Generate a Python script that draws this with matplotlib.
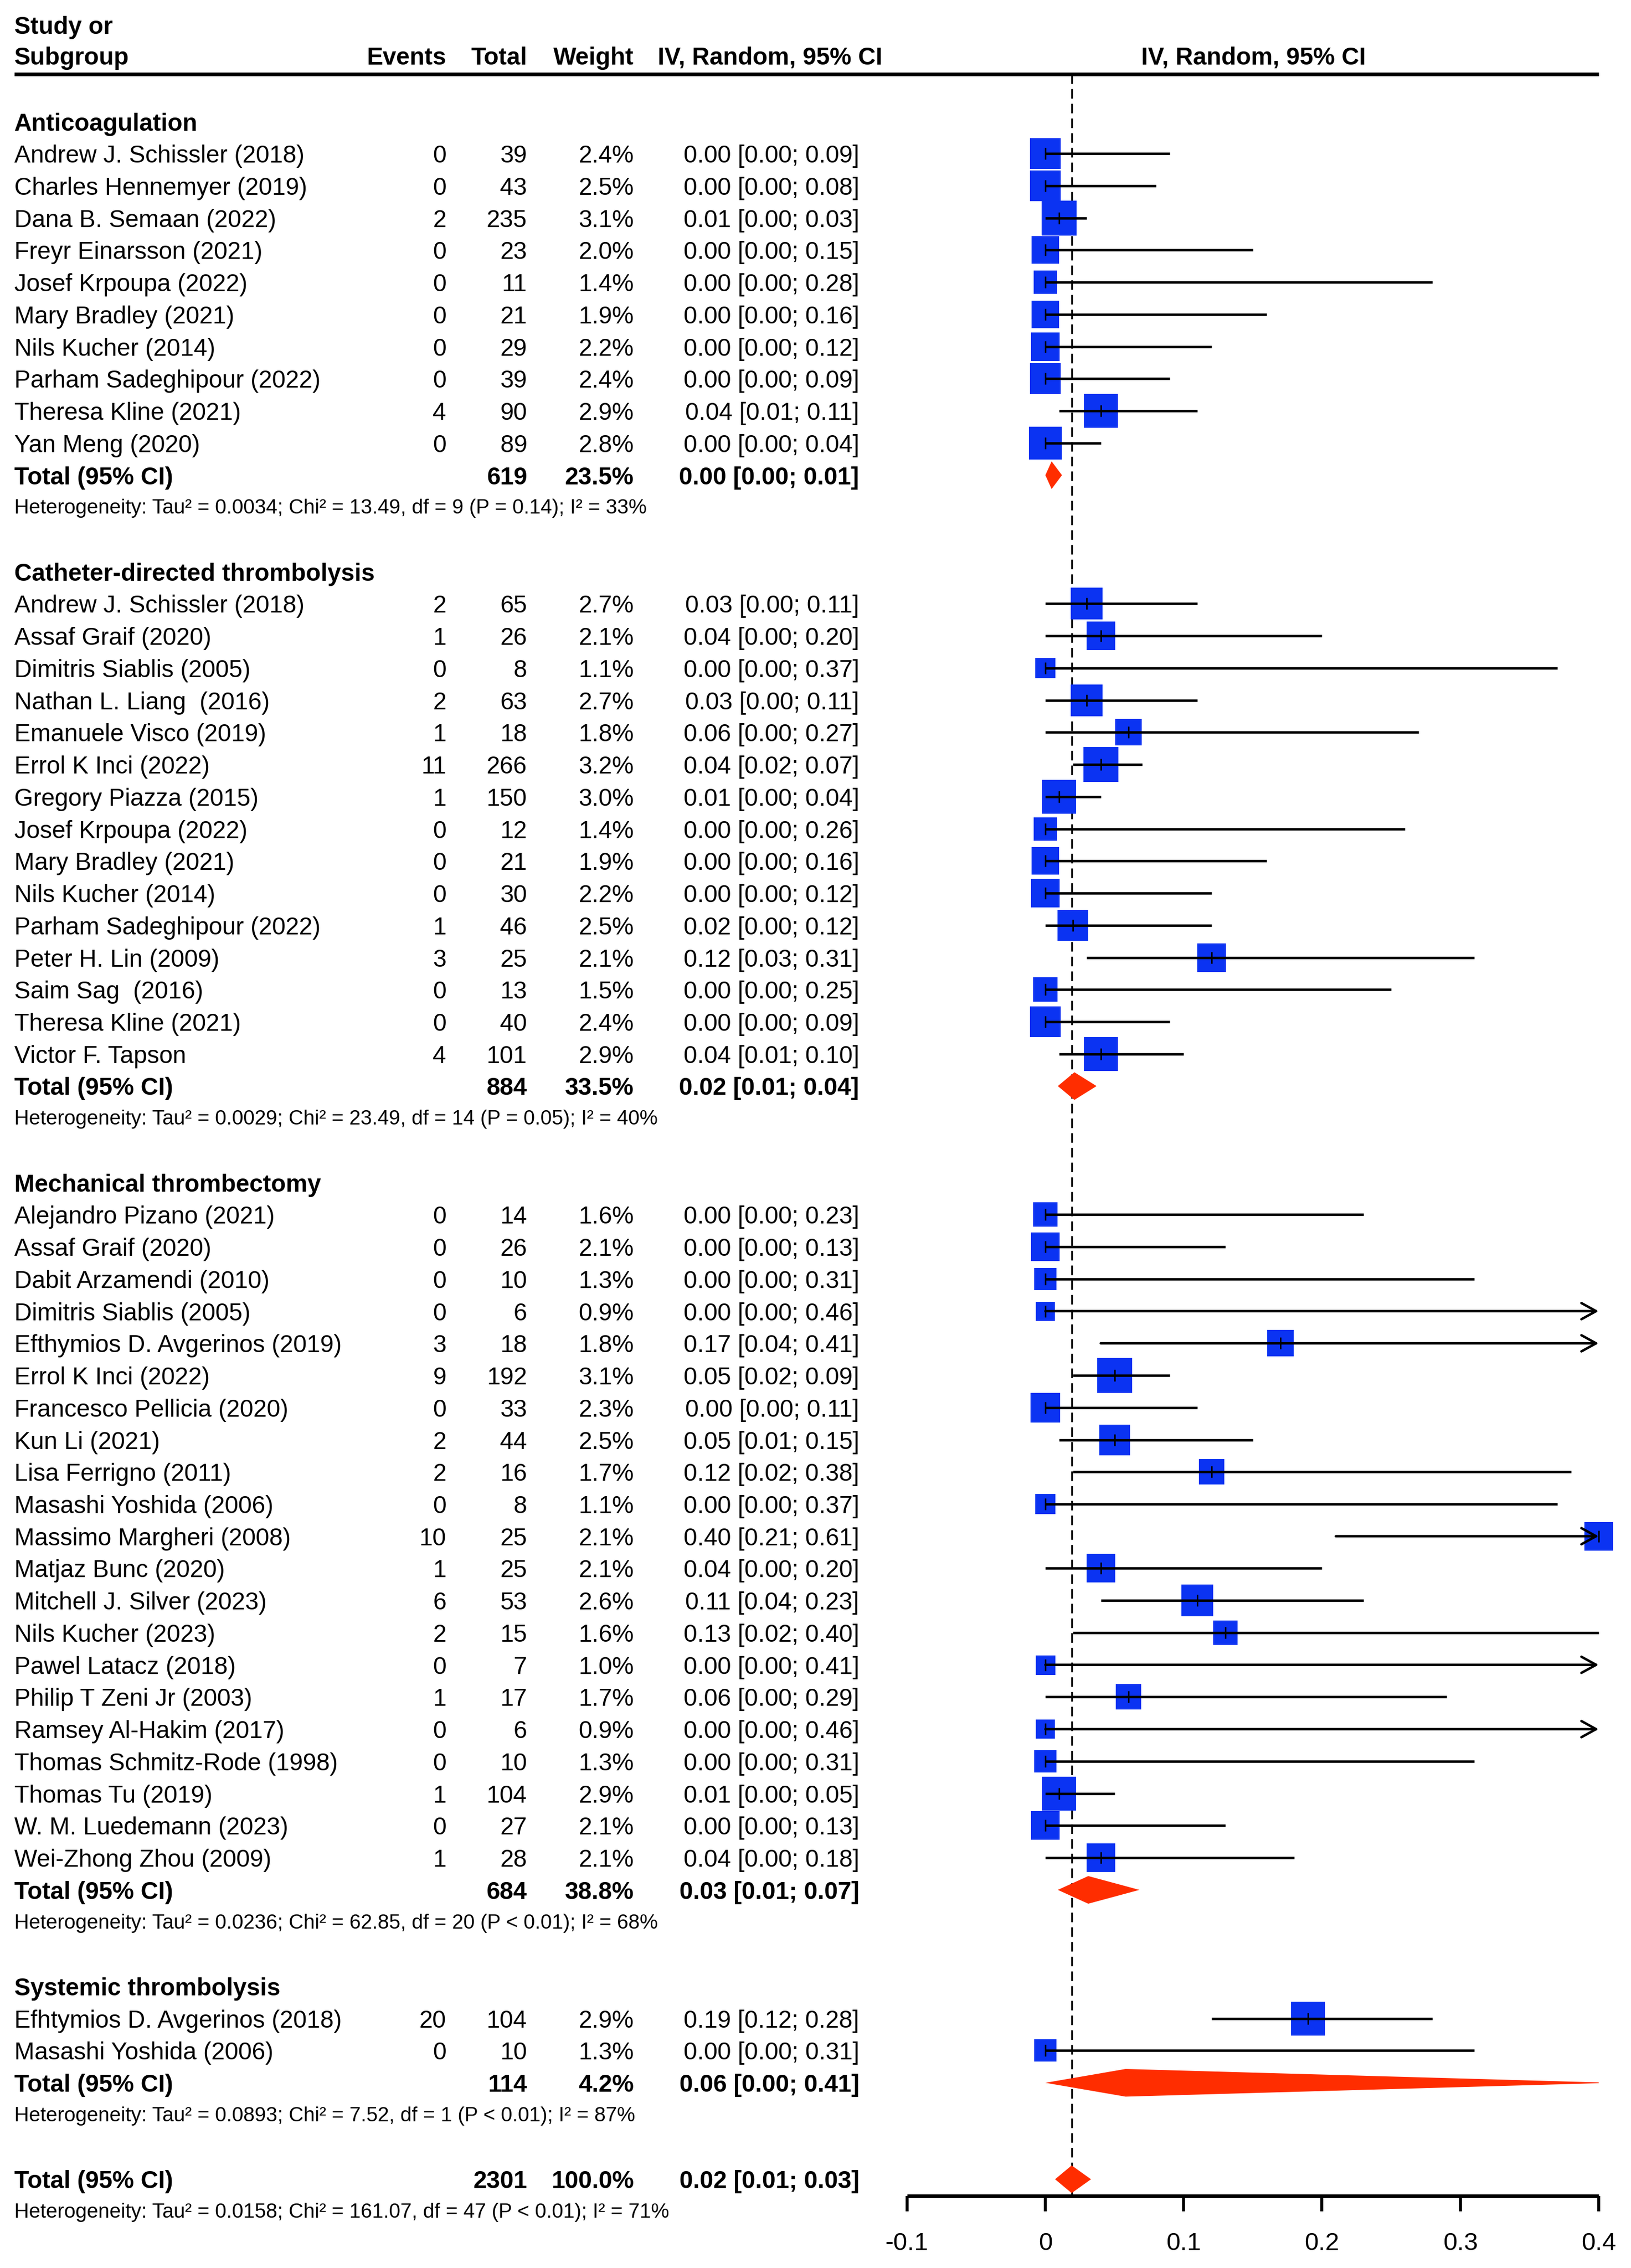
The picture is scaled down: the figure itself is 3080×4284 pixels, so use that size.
import numpy as np
import matplotlib.pyplot as plt
from matplotlib.transforms import blended_transform_factory
from matplotlib.patches import Rectangle

plt.rcParams['font.family'] = ['Liberation Sans', 'DejaVu Sans']
plt.rcParams['lines.scale_dashes'] = False

# --- Datos ---
# Anticoagulation
ac_study = ["Andrew J. Schissler (2018)", "Charles Hennemyer (2019)", "Dana B. Semaan (2022)",
            "Freyr Einarsson (2021)", "Josef Krpoupa (2022)", "Mary Bradley (2021)",
            "Nils Kucher (2014)", "Parham Sadeghipour (2022)", "Theresa Kline (2021)",
            "Yan Meng (2020)"]
ac_events = [0, 0, 2, 0, 0, 0, 0, 0, 4, 0]
ac_total = [39, 43, 235, 23, 11, 21, 29, 39, 90, 89]
ac_weight = [2.4, 2.5, 3.1, 2.0, 1.4, 1.9, 2.2, 2.4, 2.9, 2.8]
ac_est = [0.00, 0.00, 0.01, 0.00, 0.00, 0.00, 0.00, 0.00, 0.04, 0.00]
ac_lo = [0.00, 0.00, 0.00, 0.00, 0.00, 0.00, 0.00, 0.00, 0.01, 0.00]
ac_hi = [0.09, 0.08, 0.03, 0.15, 0.28, 0.16, 0.12, 0.09, 0.11, 0.04]

# Catheter-directed thrombolysis
cdt_study = ["Andrew J. Schissler (2018)", "Assaf Graif (2020)", "Dimitris Siablis (2005)",
             "Nathan L. Liang  (2016)", "Emanuele Visco (2019)", "Errol K Inci (2022)",
             "Gregory Piazza (2015)", "Josef Krpoupa (2022)", "Mary Bradley (2021)",
             "Nils Kucher (2014)", "Parham Sadeghipour (2022)", "Peter H. Lin (2009)",
             "Saim Sag  (2016)", "Theresa Kline (2021)", "Victor F. Tapson"]
cdt_events = [2, 1, 0, 2, 1, 11, 1, 0, 0, 0, 1, 3, 0, 0, 4]
cdt_total = [65, 26, 8, 63, 18, 266, 150, 12, 21, 30, 46, 25, 13, 40, 101]
cdt_weight = [2.7, 2.1, 1.1, 2.7, 1.8, 3.2, 3.0, 1.4, 1.9, 2.2, 2.5, 2.1, 1.5, 2.4, 2.9]
cdt_est = [0.03, 0.04, 0.00, 0.03, 0.06, 0.04, 0.01, 0.00, 0.00, 0.00, 0.02, 0.12, 0.00, 0.00, 0.04]
cdt_lo = [0.00, 0.00, 0.00, 0.00, 0.00, 0.02, 0.00, 0.00, 0.00, 0.00, 0.00, 0.03, 0.00, 0.00, 0.01]
cdt_hi = [0.11, 0.20, 0.37, 0.11, 0.27, 0.07, 0.04, 0.26, 0.16, 0.12, 0.12, 0.31, 0.25, 0.09, 0.10]

# Mechanical thrombectomy
mt_study = ["Alejandro Pizano (2021)", "Assaf Graif (2020)", "Dabit Arzamendi (2010)",
            "Dimitris Siablis (2005)", "Efthymios D. Avgerinos (2019)", "Errol K Inci (2022)",
            "Francesco Pellicia (2020)", "Kun Li (2021)", "Lisa Ferrigno (2011)",
            "Masashi Yoshida (2006)", "Massimo Margheri (2008)", "Matjaz Bunc (2020)",
            "Mitchell J. Silver (2023)", "Nils Kucher (2023)", "Pawel Latacz (2018)",
            "Philip T Zeni Jr (2003)", "Ramsey Al-Hakim (2017)", "Thomas Schmitz-Rode (1998)",
            "Thomas Tu (2019)", "W. M. Luedemann (2023)", "Wei-Zhong Zhou (2009)"]
mt_events = [0, 0, 0, 0, 3, 9, 0, 2, 2, 0, 10, 1, 6, 2, 0, 1, 0, 0, 1, 0, 1]
mt_total = [14, 26, 10, 6, 18, 192, 33, 44, 16, 8, 25, 25, 53, 15, 7, 17, 6, 10, 104, 27, 28]
mt_weight = [1.6, 2.1, 1.3, 0.9, 1.8, 3.1, 2.3, 2.5, 1.7, 1.1, 2.1, 2.1, 2.6, 1.6, 1.0, 1.7, 0.9,
             1.3, 2.9, 2.1, 2.1]
mt_est = [0.00, 0.00, 0.00, 0.00, 0.17, 0.05, 0.00, 0.05, 0.12, 0.00, 0.40, 0.04, 0.11, 0.13,
          0.00, 0.06, 0.00, 0.00, 0.01, 0.00, 0.04]
mt_lo = [0.00, 0.00, 0.00, 0.00, 0.04, 0.02, 0.00, 0.01, 0.02, 0.00, 0.21, 0.00, 0.04, 0.02,
         0.00, 0.00, 0.00, 0.00, 0.00, 0.00, 0.00]
mt_hi = [0.23, 0.13, 0.31, 0.46, 0.41, 0.09, 0.11, 0.15, 0.38, 0.37, 0.61, 0.20, 0.23, 0.40,
         0.41, 0.29, 0.46, 0.31, 0.05, 0.13, 0.18]

# Systemic thrombolysis
st_study = ["Efhtymios D. Avgerinos (2018)", "Masashi Yoshida (2006)"]
st_events = [20, 0]
st_total = [104, 10]
st_weight = [2.9, 1.3]
st_est = [0.19, 0.00]
st_lo = [0.12, 0.00]
st_hi = [0.28, 0.31]

# Subgrupos
sub_names = ["Anticoagulation", "Catheter-directed thrombolysis",
             "Mechanical thrombectomy", "Systemic thrombolysis"]
sub_n = [619, 884, 684, 114]
sub_weight = [23.5, 33.5, 38.8, 4.2]
sub_est = [0.0045, 0.021, 0.031, 0.058]
sub_lo = [0.000, 0.009, 0.009, 0.000]
sub_hi = [0.012, 0.037, 0.068, 0.41]
sub_het = ["Heterogeneity: Tau² = 0.0034; Chi² = 13.49, df = 9 (P = 0.14); I² = 33%",
           "Heterogeneity: Tau² = 0.0029; Chi² = 23.49, df = 14 (P = 0.05); I² = 40%",
           "Heterogeneity: Tau² = 0.0236; Chi² = 62.85, df = 20 (P < 0.01); I² = 68%",
           "Heterogeneity: Tau² = 0.0893; Chi² = 7.52, df = 1 (P < 0.01); I² = 87%"]

# Total
all_n = 2301
all_weight = 100.0
all_est = 0.019
all_lo = 0.007
all_hi = 0.033
all_het = "Heterogeneity: Tau² = 0.0158; Chi² = 161.07, df = 47 (P < 0.01); I² = 71%"

ticks = [-0.1, 0, 0.1, 0.2, 0.3, 0.4]
tick_labels = ["-0.1", "0", "0.1", "0.2", "0.3", "0.4"]

groups = [
    (ac_study, ac_events, ac_total, ac_weight, ac_est, ac_lo, ac_hi),
    (cdt_study, cdt_events, cdt_total, cdt_weight, cdt_est, cdt_lo, cdt_hi),
    (mt_study, mt_events, mt_total, mt_weight, mt_est, mt_lo, mt_hi),
    (st_study, st_events, st_total, st_weight, st_est, st_lo, st_hi),
]

# --- Estilo ---
blue = "#0B33F2"
red = "#FF2D00"
fs = 33
fs_het = 27.7
xmax = 0.4
lw_ci = 3.3
sq_scale = (37 / (100 / 72)) ** 2   # area del cuadrado por % de peso

# Columnas (fraccion del ancho)
x_name = 0.0087
x_ev = 0.2737
x_tot = 0.3232
x_w = 0.3886
x_ci = 0.5268
x_cihdr = 0.4032
x_plothdr = 0.7685

off_main = 0.28   # baseline respecto al centro de fila
off_het = 0.2

fig = plt.figure(figsize=(30.8, 42.84), dpi=100)
ax = fig.add_axes([0, 0, 1, 1])
ax.set_xlim(-0.7558, 0.4234)
ax.set_ylim(66.76, -3.779)
tr = blended_transform_factory(ax.transAxes, ax.transData)

clip = Rectangle((-1, -10), 1 + xmax, 100, transform=ax.transData)


def txt(x, y, s, ha="left", bold=False, size=fs, off=off_main):
    ax.text(x, y + off, s, transform=tr, ha=ha, va="baseline", fontsize=size,
            fontweight="bold" if bold else "normal")


def diamond(y, est, lo, hi):
    h = 0.43
    poly = ax.fill([lo, est, hi, est], [y, y - h, y, y + h], color=red, lw=0, zorder=3)[0]
    poly.set_clip_path(clip)


# Encabezado
txt(x_name, -3.0, "Study or", bold=True)
txt(x_name, -2.05, "Subgroup", bold=True)
txt(x_ev, -2.05, "Events", ha="right", bold=True)
txt(x_tot, -2.05, "Total", ha="right", bold=True)
txt(x_w, -2.05, "Weight", ha="right", bold=True)
txt(x_cihdr, -2.05, "IV, Random, 95% CI", bold=True)
txt(x_plothdr, -2.05, "IV, Random, 95% CI", ha="center", bold=True)

xl = ax.get_xlim()
ax.axhline(-1.474, xmin=x_name, xmax=(xmax - xl[0]) / (xl[1] - xl[0]), color="black", lw=5,
           solid_capstyle="butt")

k = 0
for gi, (study, ev, tot, w, est, lo, hi) in enumerate(groups):
    txt(x_name, k, sub_names[gi], bold=True)
    k += 1
    for i in range(len(study)):
        txt(x_name, k, study[i])
        txt(x_ev, k, str(ev[i]), ha="right")
        txt(x_tot, k, str(tot[i]), ha="right")
        txt(x_w, k, f"{w[i]:.1f}%", ha="right")
        txt(x_ci, k, f"{est[i]:.2f} [{lo[i]:.2f}; {hi[i]:.2f}]", ha="right")

        ax.scatter(est[i], k, s=sq_scale * w[i], marker="s", color=blue, linewidths=0, zorder=2)
        if hi[i] > xmax:
            ax.annotate("", xy=(xmax, k), xytext=(lo[i], k),
                        arrowprops=dict(arrowstyle="->,head_length=1.0,head_width=0.55",
                                        lw=lw_ci, color="black", shrinkA=0, shrinkB=0,
                                        mutation_scale=20), zorder=3)
        else:
            ax.hlines(k, lo[i], hi[i], color="black", lw=lw_ci, zorder=3)
        ax.scatter(est[i], k, s=260, marker="|", color="black", linewidths=2, zorder=4)
        k += 1

    txt(x_name, k, "Total (95% CI)", bold=True)
    txt(x_tot, k, str(sub_n[gi]), ha="right", bold=True)
    txt(x_w, k, f"{sub_weight[gi]:.1f}%", ha="right", bold=True)
    txt(x_ci, k, f"{sub_est[gi]:.2f} [{sub_lo[gi]:.2f}; {sub_hi[gi]:.2f}]", ha="right", bold=True)
    diamond(k, sub_est[gi], sub_lo[gi], sub_hi[gi])
    k += 1
    txt(x_name, k, sub_het[gi], size=fs_het, off=off_het)
    k += 2

# Total general
txt(x_name, k, "Total (95% CI)", bold=True)
txt(x_tot, k, str(all_n), ha="right", bold=True)
txt(x_w, k, f"{all_weight:.1f}%", ha="right", bold=True)
txt(x_ci, k, f"{all_est:.2f} [{all_lo:.2f}; {all_hi:.2f}]", ha="right", bold=True)
diamond(k, all_est, all_lo, all_hi)
txt(x_name, k + 1, all_het, size=fs_het, off=off_het)

axis_y = k + 0.52
ax.vlines(all_est, -1.474, axis_y, color="black", lw=2.4, linestyles=(0, (13, 7)), zorder=1)

# Eje x
for s in ["top", "left", "right"]:
    ax.spines[s].set_visible(False)
ax.spines["bottom"].set_position(("data", axis_y))
ax.spines["bottom"].set_bounds(-0.1, 0.4)
ax.spines["bottom"].set_linewidth(5)
ax.spines["bottom"].set_capstyle("butt")
ax.set_xticks(ticks)
ax.set_xticklabels(tick_labels)
ax.tick_params(axis="x", direction="out", length=21, width=4, pad=28, labelsize=34)
ax.set_yticks([])

fig.savefig("out.png", dpi=100, facecolor="white")
